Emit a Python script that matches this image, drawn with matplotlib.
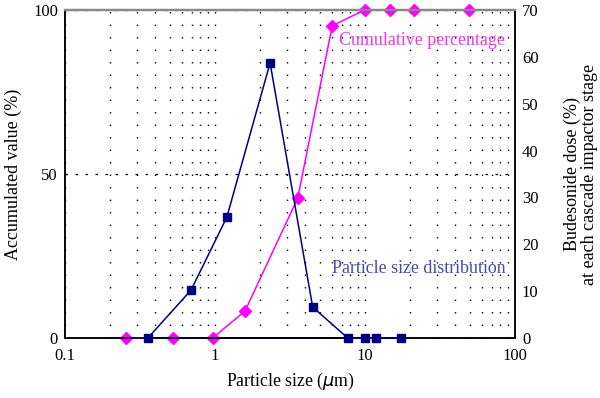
import matplotlib
matplotlib.use("Agg")
import matplotlib.pyplot as plt
from matplotlib.ticker import FixedLocator, NullFormatter, FixedFormatter

plt.rcParams['font.family'] = ['Liberation Serif', 'DejaVu Serif']

# Cumulative percentage (left axis)
cum_size = [0.255, 0.527, 0.966, 1.585, 3.56, 6.05, 9.95, 14.7, 21.1, 49.6]
cum_pct = [0, 0, 0, 8.2, 42.6, 95.2, 100, 100, 100, 100]

# Particle size distribution (right axis)
psd_size = [0.357, 0.692, 1.20, 2.33, 4.48, 7.67, 9.93, 11.9, 17.5]
psd_dose = [0, 10.2, 25.8, 58.7, 6.6, 0, 0, 0, 0]

x_ticks = [0.1, 1, 10, 100]
x_ticklabels = ["0.1", "1", "10", "100"]
left_ticks = [0, 50, 100]
right_ticks = [0, 10, 20, 30, 40, 50, 60, 70]

MAGENTA = "#ff00ff"
NAVY = "#000080"

fig = plt.figure(figsize=(6.0, 3.98), dpi=100)
ax = fig.add_axes([0.1083, 0.1508, 0.75, 0.8241])
ax2 = ax.twinx()

ax.set_xscale('log')
ax.set_xlim(0.1, 100)
ax.set_ylim(0, 100)
ax2.set_ylim(0, 70)

ax.xaxis.set_major_locator(FixedLocator(x_ticks))
ax.xaxis.set_major_formatter(FixedFormatter(x_ticklabels))
minor = [m * 10**e for e in (-1, 0, 1) for m in range(2, 10)]
ax.xaxis.set_minor_locator(FixedLocator(minor))
ax.xaxis.set_minor_formatter(NullFormatter())
ax.set_yticks(left_ticks)
ax2.set_yticks(right_ticks)

# grids
ax.grid(True, which='both', axis='x', color='black', linewidth=1.0,
        linestyle=(0, (1, 8)))
ax.grid(True, which='major', axis='y', color='black', linewidth=0.9,
        linestyle=(0, (2, 6)))

for a in (ax, ax2):
    a.tick_params(axis='both', which='both', length=0, labelsize=12, pad=5)
    for s in a.spines.values():
        s.set_linewidth(1.1)
        s.set_color('black')
    a.spines['top'].set_color('#888888')
    a.spines['top'].set_linewidth(1.6)
ax.tick_params(axis='x', pad=7)

ax.plot(cum_size, cum_pct, color=MAGENTA, marker='D', markersize=6,
        linewidth=1.1, zorder=3, clip_on=False)
ax2.plot([psd_size[0], psd_size[-1]], [psd_dose[0], psd_dose[-1]],
         color=NAVY, linewidth=1.1, clip_on=False)
ax2.plot(psd_size, psd_dose, color=NAVY, marker='s', markersize=6,
         linewidth=1.1, zorder=3, clip_on=False)

ax.set_xlabel("Particle size ($\\mu$m)", fontsize=12.8, labelpad=5)
ax.set_ylabel("Accumulated value (%)", fontsize=13, labelpad=8)
ax2.set_ylabel("Budesonide dose (%)\nat each cascade impactor stage",
               fontsize=13, labelpad=18, linespacing=1.0)

ax.text(0.608, 0.906, "Cumulative percentage", transform=ax.transAxes,
        color="#e040e0", fontsize=12.9, va='center', ha='left')
ax.text(0.593, 0.213, "Particle size distribution", transform=ax.transAxes,
        color="#4a4aa8", fontsize=12.9, va='center', ha='left')

fig.savefig("out.png", dpi=100)
